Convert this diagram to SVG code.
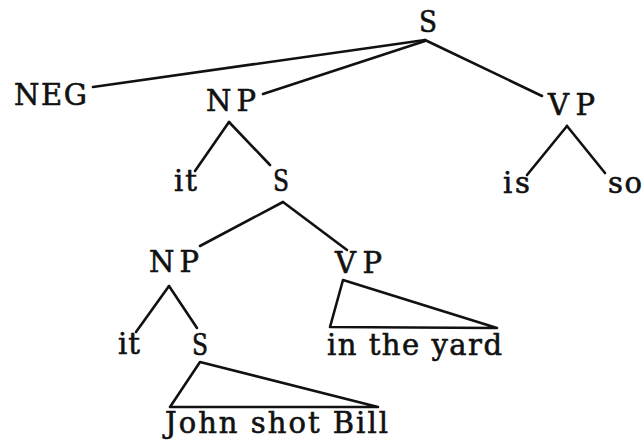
<svg xmlns="http://www.w3.org/2000/svg" width="643" height="442" viewBox="0 0 643 442">
<style>
text{font-family:"DejaVu Serif","Liberation Serif",serif;font-size:29px;fill:#111;stroke:#111;stroke-width:0.6;}
.e{stroke:#111;stroke-width:2.6;stroke-linecap:round;stroke-linejoin:round;fill:none;}
</style>
<rect width="643" height="442" fill="#fff"/>
<g id="connectors">
<path class="e" d="M425,40 L93,87"/>
<path class="e" d="M425,41 L263,94"/>
<path class="e" d="M425,40 L542,96"/>
<path class="e" d="M229,122 L195,171"/>
<path class="e" d="M229,122 L270,165"/>
<path class="e" d="M567,126 L527,175"/>
<path class="e" d="M567,126 L605,173"/>
<path class="e" d="M283,202 L200,246"/>
<path class="e" d="M283,202 L347,250"/>
<path class="e" d="M169,286 L136,332"/>
<path class="e" d="M169,286 L197,328"/>
<path class="e" d="M343,280 L330,327 L497,328 Z"/>
<path class="e" d="M200,362 L170,407 L378,407 Z"/>
</g>
<g id="S1"><text x="419" y="32" textLength="18" lengthAdjust="spacingAndGlyphs">S</text></g>
<g id="NEG"><text x="14" y="105" textLength="73" lengthAdjust="spacing">NEG</text></g>
<g id="NP1"><text x="206" y="111" textLength="50" lengthAdjust="spacing">NP</text></g>
<g id="VP1"><text x="548" y="115" textLength="47" lengthAdjust="spacing">VP</text></g>
<g id="it1"><text x="174" y="191" textLength="23" lengthAdjust="spacing">it</text></g>
<g id="S2"><text x="273" y="191" textLength="16" lengthAdjust="spacingAndGlyphs">S</text></g>
<g id="is"><text x="503" y="193" textLength="27" lengthAdjust="spacing">is</text></g>
<g id="so"><text x="608" y="193" textLength="34" lengthAdjust="spacing">so</text></g>
<g id="NP2"><text x="149" y="272" textLength="50" lengthAdjust="spacing">NP</text></g>
<g id="VP2"><text x="335" y="273" textLength="47" lengthAdjust="spacing">VP</text></g>
<g id="it2"><text x="118" y="354" textLength="22" lengthAdjust="spacing">it</text></g>
<g id="S3"><text x="192" y="355" textLength="16" lengthAdjust="spacingAndGlyphs">S</text></g>
<g id="in_the_yard"><text x="327" y="355" textLength="175" lengthAdjust="spacing">in the yard</text></g>
<g id="John_shot_Bill"><text x="165" y="433" textLength="223" lengthAdjust="spacing">John shot Bill</text></g>
</svg>
